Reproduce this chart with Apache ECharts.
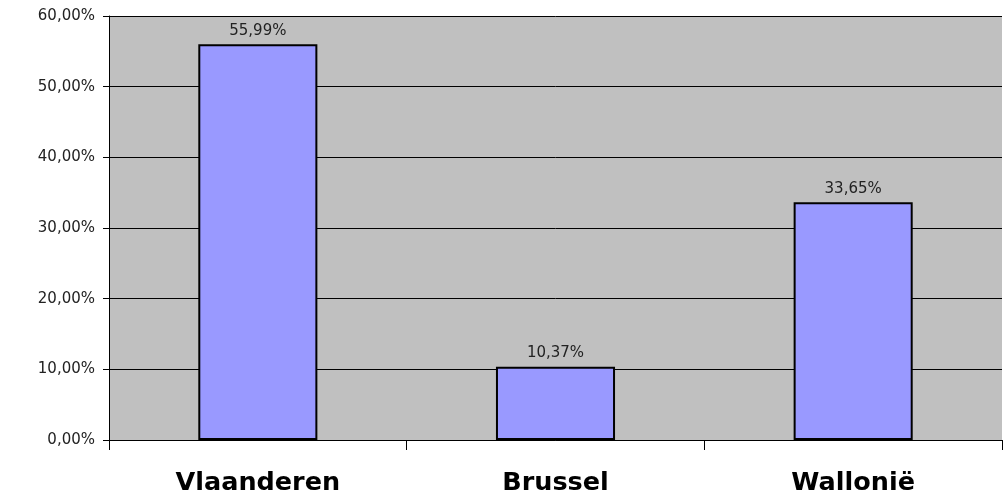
<!DOCTYPE html>
<html>
<head>
<meta charset="utf-8">
<script src="https://cdn.jsdelivr.net/npm/echarts@6/dist/echarts.min.js"></script>
<style>
  html, body { margin: 0; padding: 0; background: #fff; }
  #chart { width: 1003px; height: 500px; }
</style>
</head>
<body>
<div id="chart"></div>
<script>
const regions = ['Vlaanderen', 'Brussel', 'Wallonië']
const shares = [55.99, 10.37, 33.65]

function pct(v) {
  return v.toFixed(2).replace('.', ',') + '%'
}

const chart = echarts.init(document.getElementById('chart'))
chart.setOption({
  animation: false,
  grid: {
    left: 109,
    right: 1,
    top: 16,
    bottom: 60,
    show: true,
    backgroundColor: '#c0c0c0',
    borderWidth: 0
  },
  xAxis: {
    type: 'category',
    data: regions,
    axisLine: { lineStyle: { color: '#000', width: 1 } },
    axisTick: { show: true, length: 10, lineStyle: { color: '#000' } },
    axisLabel: {
      margin: 30,
      color: '#000',
      fontFamily: 'DejaVu Sans, sans-serif',
      fontWeight: 'bold',
      fontSize: 25.5
    }
  },
  yAxis: {
    type: 'value',
    min: 0,
    max: 60,
    interval: 10,
    axisLine: { show: true, lineStyle: { color: '#000', width: 1 } },
    axisTick: { show: true, length: 6, lineStyle: { color: '#000' } },
    splitLine: { lineStyle: { color: '#000', width: 1 } },
    axisLabel: {
      margin: 14,
      color: '#222',
      fontFamily: 'DejaVu Sans, sans-serif',
      fontSize: 15,
      formatter: pct
    }
  },
  series: [
    {
      type: 'bar',
      data: shares,
      barWidth: '40%',
      itemStyle: {
        color: '#9999ff',
        borderColor: '#000',
        borderWidth: 2
      },
      label: {
        show: true,
        position: 'top',
        distance: 6,
        color: '#222',
        fontFamily: 'DejaVu Sans, sans-serif',
        fontSize: 15,
        formatter: (p) => pct(p.value)
      }
    }
  ]
})
</script>
</body>
</html>
